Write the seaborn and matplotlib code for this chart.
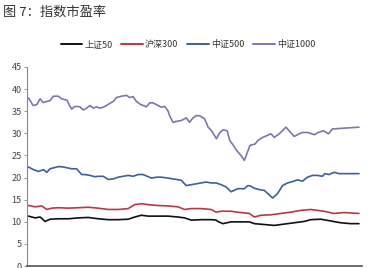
import numpy as np
import pandas as pd
import matplotlib
matplotlib.use("Agg")
import matplotlib.pyplot as plt
import seaborn as sns

sns.set_theme(style="white")
plt.rcParams['font.family'] = ['Noto Sans CJK SC', 'DejaVu Sans']

title = "图 7：指数市盈率"
series_names = ["上证50", "沪深300", "中证500", "中证1000"]
colors = ["#111111", "#b83a40", "#3d5f9c", "#7f74ad"]
y_ticks = [0, 5, 10, 15, 20, 25, 30, 35, 40, 45]

# trading-day index and values
csi1000_day = [1, 15, 26, 36, 45, 56, 66, 76, 91, 101, 117, 126, 131, 141, 156, 166, 176, 186, 196,
               206, 216, 226, 236, 246, 256, 266, 281, 296, 306, 316, 326, 337, 346, 356, 366, 376,
               391, 401, 411, 421, 426, 436, 446, 461, 476, 486, 496, 506, 516, 531, 542, 552, 567,
               577, 587, 599, 607, 615, 628, 641, 651, 668, 683, 692, 704, 731, 741, 756, 776, 801,
               816, 826, 842, 862, 873, 889, 904, 916, 996]
csi1000_val = [38.0, 36.3, 36.5, 37.8, 37.0, 37.2, 37.4, 38.4, 38.4, 37.8, 37.5, 36.1, 35.5, 36.1,
               36.0, 35.3, 35.7, 36.3, 35.7, 36.0, 35.7, 35.9, 36.3, 36.8, 37.2, 38.1, 38.4, 38.6,
               38.1, 38.3, 37.2, 36.6, 36.3, 36.0, 36.9, 36.9, 36.3, 35.9, 36.1, 35.1, 34.0, 32.5,
               32.7, 32.9, 33.5, 32.5, 33.5, 34.0, 34.0, 33.3, 31.4, 30.6, 28.8, 30.2, 30.8, 30.6,
               28.4, 27.6, 26.1, 25.0, 23.9, 27.3, 27.6, 28.4, 29.0, 29.9, 29.1, 29.9, 31.4, 29.3,
               29.9, 30.2, 30.2, 29.7, 30.2, 30.6, 29.9, 31.0, 31.4]

csi500_day = [1, 16, 31, 46, 56, 66, 91, 106, 131, 146, 161, 171, 186, 201, 211, 226, 241, 256,
              271, 286, 301, 316, 331, 346, 371, 386, 401, 421, 436, 446, 461, 476, 491, 506, 521,
              536, 551, 566, 581, 596, 611, 631, 651, 661, 669, 681, 696, 711, 726, 736, 751, 766,
              781, 796, 811, 826, 841, 856, 871, 886, 893, 906, 921, 936, 996]
csi500_val = [22.4, 21.8, 21.4, 21.8, 21.2, 22.0, 22.5, 22.4, 22.0, 22.0, 20.7, 20.7, 20.5, 20.2,
              20.3, 20.3, 19.6, 19.7, 20.1, 20.3, 20.5, 20.3, 20.7, 20.7, 19.9, 20.1, 20.1, 19.9,
              19.7, 19.6, 19.4, 18.2, 18.4, 18.6, 18.8, 19.0, 18.8, 18.8, 18.4, 17.9, 16.8, 17.5,
              17.5, 18.2, 18.1, 17.6, 17.3, 17.1, 16.1, 15.4, 16.4, 18.2, 18.8, 19.1, 19.5, 19.2,
              20.1, 20.5, 20.5, 20.3, 20.9, 20.7, 21.2, 20.9, 20.9]

hs300_day = [1, 21, 41, 56, 71, 91, 121, 151, 181, 211, 241, 271, 301, 321, 341, 361, 391, 421,
             451, 471, 491, 521, 551, 566, 581, 611, 641, 666, 681, 701, 731, 761, 791, 821, 851,
             871, 891, 921, 951, 996]
hs300_val = [13.7, 13.4, 13.6, 12.8, 13.1, 13.2, 13.1, 13.2, 13.3, 13.1, 12.8, 12.8, 13.0, 13.9,
             14.1, 13.9, 13.7, 13.6, 13.4, 12.8, 13.0, 13.0, 12.8, 12.2, 12.4, 12.4, 12.1, 11.9,
             11.1, 11.5, 11.6, 11.9, 12.2, 12.6, 12.8, 12.6, 12.4, 11.9, 12.1, 11.9]

sz50_day = [1, 21, 36, 51, 66, 91, 121, 151, 181, 211, 241, 271, 301, 321, 341, 361, 391, 421,
            451, 471, 491, 521, 551, 566, 571, 586, 611, 641, 666, 681, 711, 741, 771, 801, 831,
            851, 881, 911, 941, 971, 996]
sz50_val = [11.3, 10.9, 11.1, 10.1, 10.6, 10.7, 10.7, 10.9, 11.0, 10.7, 10.5, 10.5, 10.6, 11.1,
            11.5, 11.3, 11.3, 11.3, 11.1, 10.9, 10.4, 10.5, 10.5, 10.4, 10.1, 9.6, 10.0, 10.0,
            10.0, 9.6, 9.4, 9.2, 9.5, 9.8, 10.1, 10.5, 10.6, 10.2, 9.8, 9.6, 9.6]

frames = []
for name, d, v in [(series_names[0], sz50_day, sz50_val),
                   (series_names[1], hs300_day, hs300_val),
                   (series_names[2], csi500_day, csi500_val),
                   (series_names[3], csi1000_day, csi1000_val)]:
    frames.append(pd.DataFrame({"day": d, "value": v, "series": name}))
df = pd.concat(frames, ignore_index=True)

fig = plt.figure(figsize=(3.72, 2.68), dpi=100)
ax = fig.add_axes([0.073, 0.007, 0.90, 0.743])

sns.lineplot(data=df, x="day", y="value", hue="series", hue_order=series_names,
             palette=colors, linewidth=1.2, ax=ax, legend=False, sort=True)

ax.set_xlim(-3, 1005)
ax.set_ylim(0, 45)
ax.set_yticks(y_ticks)
ax.set_yticklabels([str(t) for t in y_ticks], fontsize=6.5, color="#444444")
ax.set_xticks([])
ax.set_xlabel("")
ax.set_ylabel("")
for s in ["top", "right"]:
    ax.spines[s].set_visible(False)
ax.spines["left"].set_color("#888888")
ax.spines["left"].set_linewidth(0.8)
ax.spines["bottom"].set_color("#555555")
ax.spines["bottom"].set_linewidth(1.2)
ax.tick_params(axis="y", length=2, width=0.6, color="#888888", pad=2, left=True)

fig.text(0.008, 0.955, title, fontsize=9.5, color="#333333", va="center", ha="left")

from matplotlib.lines import Line2D
handles = [Line2D([0], [0], color=c, lw=1.4) for c in colors]
fig.legend(handles, series_names, loc="center", bbox_to_anchor=(0.505, 0.835), ncol=4,
           frameon=False, fontsize=6.5, handlelength=2.4, handletextpad=0.2,
           columnspacing=1.0, labelcolor="#333333")

fig.savefig("out.png", dpi=100)
